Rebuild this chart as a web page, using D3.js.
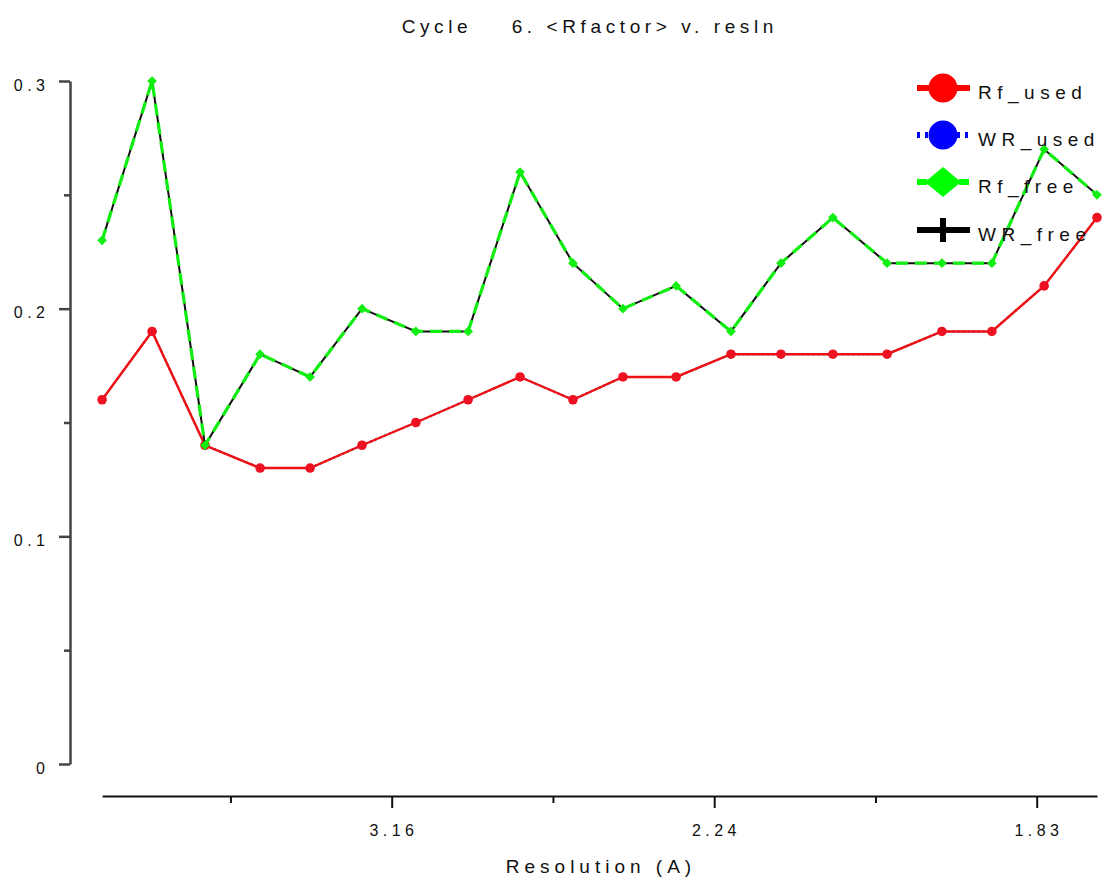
<!DOCTYPE html>
<html>
<head>
<meta charset="utf-8">
<script src="https://cdn.jsdelivr.net/npm/d3@7"></script>
<style>
  html, body { margin: 0; padding: 0; background: #fff; }
  svg { display: block; }
  text { font-family: "Liberation Sans", Arial, sans-serif; fill: #111; white-space: pre; }
</style>
</head>
<body>
<svg id="chart" width="1109" height="884"></svg>
<script>
// Resolution bins, stored as 1/d^2 (the x axis is linear in 1/d^2)
const invResSq = [0.0102, 0.0257, 0.0421, 0.0592, 0.0747, 0.0908, 0.1075, 0.1237, 0.1398, 0.1562,
                  0.1717, 0.1882, 0.2052, 0.2207, 0.2368, 0.2536, 0.2706, 0.2861, 0.3023, 0.3187];

// R factors per bin
const rfUsed = [0.16, 0.19, 0.14, 0.13, 0.13, 0.14, 0.15, 0.16, 0.17, 0.16,
                0.17, 0.17, 0.18, 0.18, 0.18, 0.18, 0.19, 0.19, 0.21, 0.24];
const wrUsed = [0.16, 0.19, 0.14, 0.13, 0.13, 0.14, 0.15, 0.16, 0.17, 0.16,
                0.17, 0.17, 0.18, 0.18, 0.18, 0.18, 0.19, 0.19, 0.21, 0.24];
const rfFree = [0.23, 0.30, 0.14, 0.18, 0.17, 0.20, 0.19, 0.19, 0.26, 0.22,
                0.20, 0.21, 0.19, 0.22, 0.24, 0.22, 0.22, 0.22, 0.27, 0.25];
const wrFree = [0.23, 0.30, 0.14, 0.18, 0.17, 0.20, 0.19, 0.19, 0.26, 0.22,
                0.20, 0.21, 0.19, 0.22, 0.24, 0.22, 0.22, 0.22, 0.27, 0.25];

const seriesNames = ["Rf_used", "WR_used", "Rf_free", "WR_free"];

// Axis ticks
const xMajorTicks = [0.1, 0.2, 0.3];
const xTickLabels = ["3.16", "2.24", "1.83"];
const xMinorTicks = [0.05, 0.15, 0.25];
const yMajorTicks = [0, 0.1, 0.2, 0.3];
const yTickLabels = ["0", "0.1", "0.2", "0.3"];
const yMinorTicks = [0.05, 0.15, 0.25];

const titleText = "Cycle    6. <Rfactor> v. resln";
const xLabelText = "Resolution (A)";

const svg = d3.select("#chart");
svg.append("rect").attr("width", 1109).attr("height", 884).attr("fill", "#fff");

const x = d3.scaleLinear().domain([0, 0.3]).range([69.2, 1036.7]);
const y = d3.scaleLinear().domain([0, 0.3]).range([764, 81]);

// Title
const titleLS = 4.6;
svg.append("text")
  .attr("x", 587.5 + titleLS / 2).attr("y", 33)
  .attr("text-anchor", "middle")
  .style("font-size", "19px").style("letter-spacing", titleLS + "px")
  .text(titleText);

// Y axis: major and minor ticks
const yAxisG = svg.append("g").attr("transform", `translate(${x(0) + 0.8},0)`);
yAxisG.append("g")
  .call(d3.axisLeft(y).tickValues(yMajorTicks).tickSize(11).tickSizeOuter(0).tickFormat(""));
const yMinor = yAxisG.append("g")
  .call(d3.axisLeft(y).tickValues(yMinorTicks).tickSize(6).tickSizeOuter(0).tickFormat(""));
yMinor.select("path.domain").remove();
yAxisG.selectAll("path.domain").attr("stroke", "#444").attr("stroke-width", 2.5);
yAxisG.selectAll(".tick line").attr("stroke", "#444").attr("stroke-width", 2.5);
yAxisG.selectAll("text").remove();

svg.append("g").selectAll("text")
  .data(yMajorTicks)
  .join("text")
  .attr("x", 45 + 4.5).attr("y", d => y(d) + 9.5)
  .attr("text-anchor", "end")
  .style("font-size", "16px").style("letter-spacing", "4.5px")
  .text((d, i) => yTickLabels[i]);

// X axis: line spans the data extent
const xExtent = d3.extent(invResSq);
const xAxisScale = x.copy().domain(xExtent).range(xExtent.map(x));
const xAxisG = svg.append("g").attr("transform", "translate(0,796)");
xAxisG.append("g")
  .call(d3.axisBottom(xAxisScale).tickValues(xMajorTicks).tickSize(12).tickSizeOuter(0).tickFormat(""));
const xMinorG = xAxisG.append("g")
  .call(d3.axisBottom(xAxisScale).tickValues(xMinorTicks).tickSize(7).tickSizeOuter(0).tickFormat(""));
xMinorG.select("path.domain").remove();
xAxisG.selectAll("path.domain").attr("stroke", "#111").attr("stroke-width", 2);
xAxisG.selectAll(".tick line").attr("stroke", "#111").attr("stroke-width", 2);

svg.append("g").selectAll("text")
  .data(xMajorTicks)
  .join("text")
  .attr("x", d => x(d) + 2.25).attr("y", 836)
  .attr("text-anchor", "middle")
  .style("font-size", "16px").style("letter-spacing", "4.5px")
  .text((d, i) => xTickLabels[i]);

const labelLS = 5;
svg.append("text")
  .attr("x", 598.5 + labelLS / 2).attr("y", 873)
  .attr("text-anchor", "middle")
  .style("font-size", "19px").style("letter-spacing", labelLS + "px")
  .text(xLabelText);

// Series lines and markers
const line = d3.line().x(d => x(d[0])).y(d => y(d[1]));
const pts = vals => invResSq.map((v, i) => [v, vals[i]]);

const plot = svg.append("g");

// WR_used: blue dotted, beneath Rf_used
plot.append("path").datum(pts(wrUsed)).attr("d", line)
  .attr("fill", "none").attr("stroke", "#0000ff").attr("stroke-width", 2)
  .attr("stroke-dasharray", "2,3");

// Rf_used: red solid with dots
plot.append("path").datum(pts(rfUsed)).attr("d", line)
  .attr("fill", "none").attr("stroke", "#ee1111").attr("stroke-width", 2.4);
plot.append("g").selectAll("circle").data(pts(rfUsed)).join("circle")
  .attr("cx", d => x(d[0])).attr("cy", d => y(d[1])).attr("r", 4.8)
  .attr("fill", "#ee1122");

// WR_free: black line underneath the green dashes
plot.append("path").datum(pts(wrFree)).attr("d", line)
  .attr("fill", "none").attr("stroke", "#111").attr("stroke-width", 2);

// Rf_free: green dashed with small diamonds
plot.append("path").datum(pts(rfFree)).attr("d", line)
  .attr("fill", "none").attr("stroke", "#11ee11").attr("stroke-width", 3.2)
  .attr("stroke-dasharray", "12,7");
const diamond = d3.symbol().type(d3.symbolDiamond2).size(60);
plot.append("g").selectAll("path").data(pts(rfFree)).join("path")
  .attr("transform", d => `translate(${x(d[0])},${y(d[1])})`)
  .attr("d", diamond)
  .attr("fill", "#11ee11");

// Legend
const legendRows = [88, 135, 182, 230];
const legend = svg.append("g");
const lx0 = 917, lx1 = 970, lxc = 943;

seriesNames.forEach((name, i) => {
  const ry = legendRows[i];
  const g = legend.append("g");
  if (i === 0) {
    g.append("line").attr("x1", lx0).attr("x2", lx1).attr("y1", ry).attr("y2", ry)
      .attr("stroke", "#ff0000").attr("stroke-width", 6);
    g.append("circle").attr("cx", lxc).attr("cy", ry).attr("r", 14.5).attr("fill", "#ff0000");
  } else if (i === 1) {
    g.append("line").attr("x1", lx0).attr("x2", lx1).attr("y1", ry).attr("y2", ry)
      .attr("stroke", "#0000ff").attr("stroke-width", 6).attr("stroke-dasharray", "3,5");
    g.append("circle").attr("cx", lxc).attr("cy", ry).attr("r", 14.5).attr("fill", "#0000ff");
  } else if (i === 2) {
    g.append("line").attr("x1", lx0).attr("x2", lx1).attr("y1", ry).attr("y2", ry)
      .attr("stroke", "#00ff00").attr("stroke-width", 6).attr("stroke-dasharray", "10,4");
    g.append("path")
      .attr("d", `M${lxc - 18},${ry} L${lxc},${ry - 15} L${lxc + 18},${ry} L${lxc},${ry + 15} Z`)
      .attr("fill", "#00ff00");
  } else {
    g.append("line").attr("x1", lx0).attr("x2", lx1).attr("y1", ry).attr("y2", ry)
      .attr("stroke", "#000").attr("stroke-width", 6);
    g.append("line").attr("x1", lxc).attr("x2", lxc).attr("y1", ry - 12).attr("y2", ry + 12)
      .attr("stroke", "#000").attr("stroke-width", 6);
  }
  g.append("text")
    .attr("x", 978).attr("y", ry + 11)
    .style("font-size", "19px").style("letter-spacing", "5.5px")
    .text(name);
});
</script>
</body>
</html>
